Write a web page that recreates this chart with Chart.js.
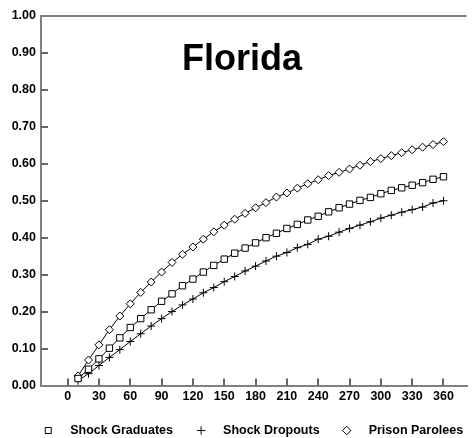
<!DOCTYPE html>
<html>
<head>
<meta charset="utf-8">
<script src="https://cdn.jsdelivr.net/npm/chart.js@4/dist/chart.umd.min.js"></script>
<style>
  html, body { margin: 0; padding: 0; background: #fff; }
  #wrap { width: 473px; height: 438px; }
</style>
</head>
<body>
<div id="wrap"><canvas id="c" width="473" height="438"></canvas></div>
<script>
const titleText = 'Florida';
const days = [10,20,30,40,50,60,70,80,90,100,110,120,130,140,150,160,170,180,190,200,210,220,230,240,250,260,270,280,290,300,310,320,330,340,350,360];
const shockGraduates = [0.019,0.044,0.072,0.101,0.129,0.157,0.181,0.205,0.228,0.248,0.270,0.288,0.307,0.325,0.342,0.358,0.372,0.386,0.400,0.412,0.425,0.436,0.448,0.458,0.470,0.481,0.491,0.501,0.509,0.519,0.528,0.535,0.542,0.549,0.558,0.565];
const shockDropouts = [0.013,0.032,0.054,0.076,0.097,0.119,0.140,0.161,0.181,0.200,0.218,0.234,0.251,0.265,0.281,0.295,0.310,0.323,0.337,0.350,0.360,0.373,0.382,0.396,0.404,0.415,0.425,0.434,0.443,0.453,0.461,0.469,0.476,0.483,0.494,0.500];
const prisonParolees = [0.026,0.069,0.110,0.151,0.188,0.221,0.252,0.280,0.307,0.333,0.355,0.375,0.396,0.416,0.434,0.450,0.466,0.481,0.495,0.510,0.521,0.534,0.546,0.557,0.568,0.577,0.586,0.596,0.606,0.614,0.622,0.630,0.638,0.645,0.652,0.660];
const xTicks = [0,30,60,90,120,150,180,210,240,270,300,330,360];
const yTicks = [0,0.1,0.2,0.3,0.4,0.5,0.6,0.7,0.8,0.9,1.0];
const seriesNames = ['Shock Graduates','Shock Dropouts','Prison Parolees'];

const FONT = '"Liberation Sans", Arial, Helvetica, sans-serif';
Chart.defaults.font.family = FONT;
Chart.defaults.color = '#000';

function toPoints(vals) { return days.map((d, i) => ({ x: d, y: vals[i] })); }

function ds(label, vals, style) {
  return {
    label: label,
    data: toPoints(vals),
    borderColor: '#000',
    backgroundColor: '#fff',
    borderWidth: 1,
    pointStyle: style,
    pointRadius: style === 'rect' ? 4.5 : 4,
    pointHoverRadius: 4,
    pointBackgroundColor: '#fff',
    pointBorderColor: '#000',
    pointBorderWidth: 1,
    tension: 0,
    fill: false
  };
}

const LEGEND_PAD = 1;
const LEGEND_FONT = 12.5;
const LEAD = '  \u2009';
const TRAIL = ['      ', '     \u2009', ''];

const decorations = {
  id: 'decorations',
  afterLayout(chart) {
    const l = chart.legend;
    if (l) {
      const shiftY = 430.5 - (l.top + LEGEND_PAD + LEGEND_FONT / 2);
      l.top += shiftY; l.bottom += shiftY;
      const shiftX = chart.chartArea.left - l.left;
      l.left += shiftX; l.right += shiftX;
    }
  },
  afterDraw(chart) {
    const ctx = chart.ctx;
    const xs = chart.scales.x, ys = chart.scales.y;
    const a = chart.chartArea;
    ctx.save();
    ctx.strokeStyle = '#808080';
    ctx.lineWidth = 2;
    ctx.beginPath();
    const pTop = Math.round(ys.getPixelForValue(yTicks[yTicks.length - 1]));
    ctx.moveTo(a.left, pTop); ctx.lineTo(a.right - 1, pTop);
    ctx.stroke();
    ctx.strokeStyle = '#666';
    ctx.lineWidth = 2;
    ctx.beginPath();
    yTicks.forEach((v, i) => {
      if (i === 0 || i === yTicks.length - 1) return;
      const py = Math.round(ys.getPixelForValue(v));
      ctx.moveTo(a.left, py); ctx.lineTo(a.left + 7, py);
    });
    xTicks.forEach(v => {
      const px = Math.round(xs.getPixelForValue(v));
      ctx.moveTo(px, a.bottom); ctx.lineTo(px, a.bottom - 7);
    });
    ctx.stroke();
    ctx.fillStyle = '#000';
    ctx.font = 'bold 36px ' + FONT;
    ctx.textAlign = 'center';
    ctx.textBaseline = 'alphabetic';
    ctx.fillText(titleText, a.left + 201, a.top + 54);
    ctx.restore();
  }
};

new Chart(document.getElementById('c'), {
  type: 'line',
  data: {
    datasets: [
      ds(seriesNames[0], shockGraduates, 'rect'),
      ds(seriesNames[1], shockDropouts, 'cross'),
      ds(seriesNames[2], prisonParolees, 'rectRot')
    ]
  },
  options: {
    responsive: false,
    devicePixelRatio: 1,
    animation: false,
    layout: { padding: { top: 16, right: 0, left: 0, bottom: 0 } },
    scales: {
      x: {
        type: 'linear',
        min: -25.5,
        max: 383,
        afterBuildTicks(scale) { scale.ticks = xTicks.map(v => ({ value: v })); },
        afterFit(scale) { scale.height = 29; },
        ticks: {
          font: { size: 12.5, weight: 'bold' },
          padding: 4,
          maxRotation: 0,
          autoSkip: false,
          callback: v => String(v)
        },
        grid: { display: false, drawTicks: false },
        border: { display: true, color: '#808080', width: 2 }
      },
      y: {
        type: 'linear',
        min: 0,
        max: 1,
        afterBuildTicks(scale) { scale.ticks = yTicks.map(v => ({ value: v })); },
        afterFit(scale) { scale.width = 41; },
        ticks: {
          font: { size: 12.5, weight: 'bold' },
          padding: 5,
          autoSkip: false,
          callback: v => Number(v).toFixed(2)
        },
        grid: { display: false, drawTicks: false },
        border: { display: true, color: '#808080', width: 2 }
      }
    },
    plugins: {
      title: { display: false },
      tooltip: { enabled: false },
      legend: {
        display: true,
        position: 'bottom',
        fullSize: true,
        align: 'start',
        labels: {
          usePointStyle: true,
          boxHeight: 6,
          padding: LEGEND_PAD,
          font: { size: LEGEND_FONT, weight: 'bold' },
          color: '#000',
          generateLabels(chart) {
            const items = Chart.defaults.plugins.legend.labels.generateLabels(chart);
            items.forEach((it, i) => {
              it.text = LEAD + it.text + (TRAIL[i] || '');
              it.fillStyle = '#fff'; it.strokeStyle = '#000'; it.lineWidth = 1;
            });
            return items;
          }
        }
      }
    }
  },
  plugins: [decorations]
});
</script>
</body>
</html>
